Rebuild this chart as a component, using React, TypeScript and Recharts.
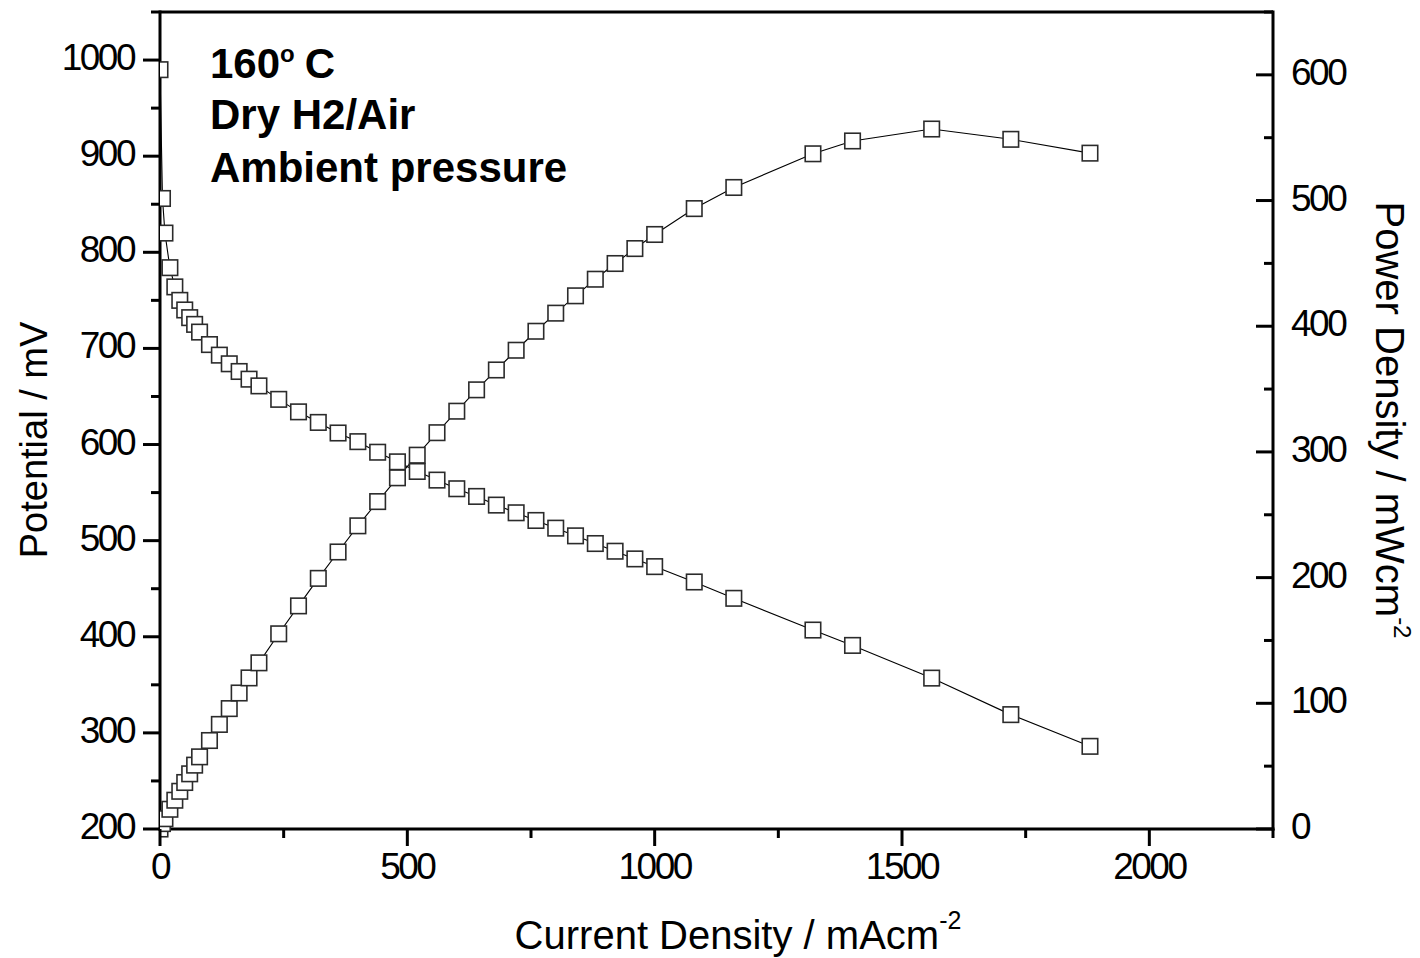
import React from "react";
import { ComposedChart, Line, XAxis, YAxis, ReferenceLine, Label, Customized } from "recharts";

// Polarisation curve, 160 °C, dry H2/air, ambient pressure
const current = [
  0, 5, 10, 20, 30, 40, 50, 60, 70, 80, 100, 120, 140, 160, 180, 200, 240, 280, 320, 360, 400, 440,
  480, 520, 560, 600, 640, 680, 720, 760, 800, 840, 880, 920, 960, 1000, 1080, 1160, 1320, 1400,
  1560, 1720, 1880,
];
const potential = [
  990, 856, 820, 784, 764, 750, 740, 732, 725, 717, 704, 693, 684, 676, 668, 661, 647, 634, 623, 612,
  603, 592, 582, 572, 563, 554, 546, 537, 529, 521, 513, 505, 497, 489, 481, 473, 457, 440, 407, 391,
  357, 319, 286,
];
const power = [
  0, 4.3, 8.2, 15.7, 22.9, 30.0, 37.0, 43.9, 50.8, 57.4, 70.4, 83.2, 95.8, 108.2, 120.2, 132.2,
  155.3, 177.5, 199.4, 220.4, 241.2, 260.5, 279.4, 297.4, 315.3, 332.4, 349.4, 365.2, 380.9, 396.0,
  410.4, 424.2, 437.4, 449.9, 461.8, 473.0, 493.6, 510.4, 537.2, 547.4, 556.9, 548.7, 537.7,
];

const xTicks = [0, 250, 500, 750, 1000, 1250, 1500, 1750, 2000, 2250];
const leftTicks = [
  200, 250, 300, 350, 400, 450, 500, 550, 600, 650, 700, 750, 800, 850, 900, 950, 1000, 1050,
];
const rightTicks = [0, 50, 100, 150, 200, 250, 300, 350, 400, 450, 500, 550, 600, 650];

const rows = current.map((c, k) => ({ i: c, v: potential[k], p: power[k] }));

const FONT = '"Liberation Sans", Arial, Helvetica, sans-serif';
const INK = "#000";
const TICK_FONT = 37;

// square open marker, white filled so the joining line stops at its edge
function Square(props: any) {
  const { cx, cy, index } = props;
  if (cx == null || cy == null) return <g key={index} />;
  return (
    <rect
      key={index}
      x={cx - 7.75}
      y={cy - 7.75}
      width={15.5}
      height={15.5}
      fill="#fff"
      stroke="#2b2b2b"
      strokeWidth={1.6}
    />
  );
}

function BottomTick({ x, y, payload }: any) {
  const v = payload.value;
  const major = v % 500 === 0;
  return (
    <g>
      <line x1={x} x2={x} y1={y} y2={y + (major ? 17 : 9)} stroke={INK} strokeWidth={3} />
      {major && (
        <text
          x={x}
          y={y + 50}
          textAnchor="middle"
          fontFamily={FONT}
          fontSize={TICK_FONT}
          letterSpacing={-2.5}
          fill={INK}
        >
          {v}
        </text>
      )}
    </g>
  );
}

function LeftTick({ x, y, payload }: any) {
  const v = payload.value;
  const major = v % 100 === 0;
  return (
    <g>
      <line x1={x} x2={x - (major ? 17 : 9)} y1={y} y2={y} stroke={INK} strokeWidth={3} />
      {major && (
        <text
          x={x - 26}
          y={y + 10}
          textAnchor="end"
          fontFamily={FONT}
          fontSize={TICK_FONT}
          letterSpacing={-2.5}
          fill={INK}
        >
          {v}
        </text>
      )}
    </g>
  );
}

// right axis ticks point inwards, labels sit outside
function RightTick({ x, y, payload }: any) {
  const v = payload.value;
  const major = v % 100 === 0;
  return (
    <g>
      <line x1={x} x2={x - (major ? 17 : 9)} y1={y} y2={y} stroke={INK} strokeWidth={3} />
      {major && (
        <text
          x={x + 18}
          y={y + 10}
          textAnchor="start"
          fontFamily={FONT}
          fontSize={TICK_FONT}
          letterSpacing={-2.5}
          fill={INK}
        >
          {v}
        </text>
      )}
    </g>
  );
}

function Notes() {
  return (
    <g fontFamily={FONT} fontWeight="bold" fontSize={42} fill={INK}>
      <text x={210} y={78}>
        160
        <tspan dy={-16} fontSize={24}>
          o
        </tspan>
        <tspan dy={16} dx={10}>
          C
        </tspan>
      </text>
      <text x={210} y={129}>
        Dry H2/Air
      </text>
      <text x={210} y={182}>
        Ambient pressure
      </text>
    </g>
  );
}

export default function App() {
  return (
    <div style={{ position: "absolute", left: 0, top: 0, background: "#fff" }}>
      <ComposedChart
        width={1420}
        height={958}
        data={rows}
        margin={{ top: 12, right: 0, bottom: 0, left: 0 }}
      >
        <XAxis
          dataKey="i"
          type="number"
          domain={[0, 2250]}
          allowDataOverflow
          ticks={xTicks}
          interval={0}
          height={129}
          tickSize={0}
          tickMargin={0}
          tickLine={false}
          tick={(p: any) => <BottomTick {...p} />}
          axisLine={{ stroke: INK, strokeWidth: 3, strokeLinecap: "square" }}
        >
          <Label
            content={({ viewBox }: any) => (
              <text
                x={738}
                y={viewBox.y + 120}
                textAnchor="middle"
                fontFamily={FONT}
                fontSize={40}
                fill={INK}
              >
                Current Density / mAcm
                <tspan dy={-20} fontSize={25}>
                  -2
                </tspan>
              </text>
            )}
          />
        </XAxis>
        <YAxis
          yAxisId="left"
          orientation="left"
          width={160}
          domain={[200, 1050]}
          ticks={leftTicks}
          interval={0}
          tickSize={0}
          tickMargin={0}
          tickLine={false}
          tick={(p: any) => <LeftTick {...p} />}
          axisLine={{ stroke: INK, strokeWidth: 3, strokeLinecap: "square" }}
        >
          <Label
            content={({ viewBox }: any) => (
              <text
                transform={`translate(${viewBox.x + 47},440) rotate(-90)`}
                textAnchor="middle"
                fontFamily={FONT}
                fontSize={38}
                fill={INK}
              >
                Potential / mV
              </text>
            )}
          />
        </YAxis>
        <YAxis
          yAxisId="right"
          orientation="right"
          width={147}
          domain={[0, 650]}
          ticks={rightTicks}
          interval={0}
          tickSize={0}
          tickMargin={0}
          tickLine={false}
          tick={(p: any) => <RightTick {...p} />}
          axisLine={{ stroke: INK, strokeWidth: 3, strokeLinecap: "square" }}
        >
          <Label
            content={({ viewBox }: any) => (
              <text
                transform={`translate(${viewBox.x + 103},420) rotate(90)`}
                textAnchor="middle"
                fontFamily={FONT}
                fontSize={40}
                fill={INK}
              >
                Power Density / mWcm
                <tspan dy={-18} fontSize={24}>
                  -2
                </tspan>
              </text>
            )}
          />
        </YAxis>
        <ReferenceLine yAxisId="left" y={1050} stroke={INK} strokeWidth={3} />
        <Line
          yAxisId="left"
          dataKey="v"
          type="linear"
          stroke={INK}
          strokeWidth={1.1}
          dot={Square}
          activeDot={false}
          isAnimationActive={false}
        />
        <Line
          yAxisId="right"
          dataKey="p"
          type="linear"
          stroke={INK}
          strokeWidth={1.1}
          dot={Square}
          activeDot={false}
          isAnimationActive={false}
        />
        <Customized component={Notes} />
      </ComposedChart>
    </div>
  );
}
